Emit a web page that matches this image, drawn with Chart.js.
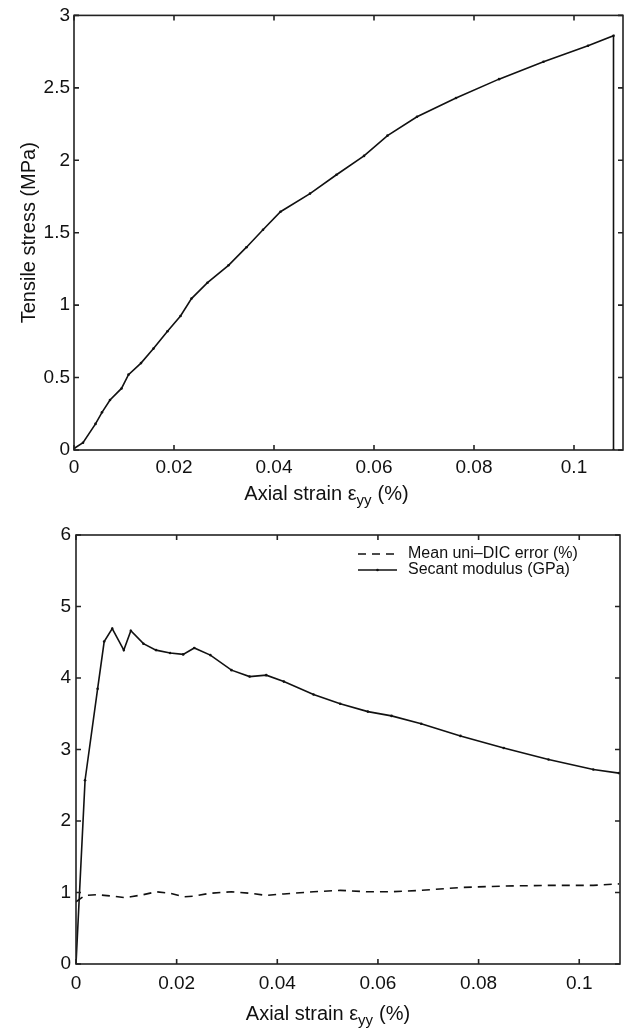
<!DOCTYPE html>
<html>
<head>
<meta charset="utf-8">
<script src="https://cdn.jsdelivr.net/npm/chart.js@4.4.1/dist/chart.umd.min.js"></script>
<style>
  html, body { margin: 0; padding: 0; background: #fff; }
  #wrap { position: relative; width: 627px; height: 1032px; }
  canvas { position: absolute; left: 0; }
  #stressChart { top: 0; }
  #modulusChart { top: 510px; }
</style>
</head>
<body>
<div id="wrap">
  <canvas id="stressChart" width="627" height="510"></canvas>
  <canvas id="modulusChart" width="627" height="522"></canvas>
</div>
<script>
// axial strain (%) at each load step
const strain = [0, 0.0018, 0.0043, 0.0056, 0.0072, 0.0095, 0.0109, 0.0134, 0.0159, 0.0187,
  0.0213, 0.0235, 0.0267, 0.0309, 0.0345, 0.0378, 0.0413, 0.0472, 0.0525, 0.0580,
  0.0627, 0.0686, 0.0764, 0.0850, 0.0939, 0.1028, 0.1079];

// tensile stress (MPa); the last entry is the drop to zero when the sample breaks
const stress = [0.01, 0.05, 0.18, 0.26, 0.345, 0.425, 0.52, 0.60, 0.70, 0.82,
  0.925, 1.045, 1.155, 1.275, 1.40, 1.52, 1.645, 1.77, 1.90, 2.03,
  2.17, 2.30, 2.43, 2.56, 2.68, 2.79, 2.86, 0];
const stressStrain = [...strain, strain[strain.length - 1]];

// mean uni-DIC error (%)
const uniDicError = [0.87, 0.96, 0.97, 0.96, 0.95, 0.93, 0.94, 0.97, 1.01, 0.99,
  0.94, 0.95, 0.99, 1.01, 0.99, 0.96, 0.98, 1.01, 1.03, 1.01,
  1.01, 1.03, 1.07, 1.09, 1.10, 1.10, 1.12];

// secant modulus (GPa)
const secantModulus = [0, 2.57, 3.85, 4.51, 4.69, 4.39, 4.66, 4.48, 4.39, 4.35,
  4.33, 4.42, 4.32, 4.11, 4.02, 4.04, 3.95, 3.77, 3.64, 3.53,
  3.47, 3.36, 3.19, 3.02, 2.86, 2.72, 2.67];

const strainTicks = [0, 0.02, 0.04, 0.06, 0.08, 0.1];
const stressTicks = [0, 0.5, 1, 1.5, 2, 2.5, 3];
const modulusTicks = [0, 1, 2, 3, 4, 5, 6];

const FONT = '"Liberation Sans", Arial, Helvetica, sans-serif';
const INK = '#111';
const AXIS = '#222';

Chart.defaults.font.family = FONT;
Chart.defaults.color = INK;

const toPoints = (xs, ys) => ys.map((y, i) => ({ x: xs[i], y }));

// box round the plot, inward ticks on all four sides, axis titles
const framePlugin = {
  id: 'frame',
  afterDraw(chart, args, opts) {
    const { ctx, chartArea: a, scales: { x, y } } = chart;
    const tick = 5;
    ctx.save();
    ctx.strokeStyle = AXIS;
    ctx.lineWidth = 1.6;
    ctx.strokeRect(a.left, a.top, a.right - a.left, a.bottom - a.top);
    ctx.beginPath();
    x.ticks.forEach(t => {
      const px = x.getPixelForValue(t.value);
      ctx.moveTo(px, a.bottom); ctx.lineTo(px, a.bottom - tick);
      ctx.moveTo(px, a.top); ctx.lineTo(px, a.top + tick);
    });
    y.ticks.forEach(t => {
      const py = y.getPixelForValue(t.value);
      ctx.moveTo(a.left, py); ctx.lineTo(a.left + tick, py);
      ctx.moveTo(a.right, py); ctx.lineTo(a.right - tick, py);
    });
    ctx.stroke();

    ctx.fillStyle = INK;
    ctx.textBaseline = 'alphabetic';
    ctx.textAlign = 'left';

    // x title with subscript
    if (opts.xTitle) {
      const parts = opts.xTitle;
      let w = 0;
      parts.forEach(p => {
        ctx.font = p.size + 'px ' + FONT;
        p.w = ctx.measureText(p.text).width;
        w += p.w + (p.gap || 0);
      });
      let cx = (a.left + a.right) / 2 + (opts.xTitleShift || 0) - w / 2;
      const base = a.bottom + opts.xTitleGap;
      parts.forEach(p => {
        ctx.font = p.size + 'px ' + FONT;
        ctx.fillText(p.text, cx, base + (p.dy || 0));
        cx += p.w + (p.gap || 0);
      });
    }

    // rotated y title
    if (opts.yTitle) {
      ctx.font = '20px ' + FONT;
      ctx.textAlign = 'center';
      ctx.translate(opts.yTitleX, (a.top + a.bottom) / 2);
      ctx.rotate(-Math.PI / 2);
      ctx.fillText(opts.yTitle, 0, 0);
    }
    ctx.restore();
  }
};

// legend in the upper right corner of the plot, drawn from the dataset styles
const cornerLegend = {
  id: 'cornerLegend',
  afterDraw(chart, args, opts) {
    if (!opts.show) return;
    const { ctx, chartArea: a } = chart;
    const x0 = a.right - opts.offsetRight;
    let yRow = a.top + opts.offsetTop;
    ctx.save();
    ctx.font = '16px ' + FONT;
    ctx.textBaseline = 'middle';
    ctx.textAlign = 'left';
    chart.data.datasets.forEach(ds => {
      ctx.strokeStyle = ds.borderColor;
      ctx.lineWidth = ds.borderWidth;
      ctx.setLineDash(ds.borderDash || []);
      ctx.beginPath();
      ctx.moveTo(x0, yRow);
      ctx.lineTo(x0 + opts.sample, yRow);
      ctx.stroke();
      ctx.setLineDash([]);
      if (ds.pointRadius > 0) {
        ctx.fillStyle = ds.borderColor;
        ctx.beginPath();
        ctx.arc(x0 + opts.sample / 2, yRow, ds.pointRadius, 0, Math.PI * 2);
        ctx.fill();
      }
      ctx.fillStyle = INK;
      ctx.fillText(ds.label, x0 + opts.sample + opts.textGap, yRow);
      yRow += opts.rowHeight;
    });
    ctx.restore();
  }
};

function axisOptions(cfg) {
  return {
    responsive: false,
    animation: false,
    events: [],
    layout: { padding: cfg.padding },
    plugins: {
      legend: { display: false },
      tooltip: { enabled: false },
      frame: cfg.frame,
      cornerLegend: cfg.legend || { show: false }
    },
    scales: {
      x: {
        type: 'linear',
        min: 0,
        max: cfg.xMax,
        grid: { display: false, drawTicks: false },
        border: { display: false },
        afterBuildTicks: s => { s.ticks = strainTicks.map(v => ({ value: v })); },
        afterFit: s => { s.height = cfg.xHeight; },
        ticks: {
          font: { size: 19 },
          color: INK,
          padding: cfg.xPad,
          maxRotation: 0,
          autoSkip: false,
          callback: v => String(v)
        }
      },
      y: {
        type: 'linear',
        min: cfg.yTicks[0],
        max: cfg.yTicks[cfg.yTicks.length - 1],
        grid: { display: false, drawTicks: false },
        border: { display: false },
        afterBuildTicks: s => { s.ticks = cfg.yTicks.map(v => ({ value: v })); },
        afterFit: s => { s.width = cfg.yWidth; },
        ticks: {
          font: { size: 19 },
          color: INK,
          padding: cfg.yPad,
          autoSkip: false,
          callback: v => String(v)
        }
      }
    }
  };
}

new Chart(document.getElementById('stressChart'), {
  type: 'line',
  data: {
    datasets: [{
      label: 'Tensile stress (MPa)',
      data: toPoints(stressStrain, stress),
      borderColor: INK,
      borderWidth: 1.6,
      pointRadius: 1.3,
      pointBackgroundColor: INK,
      pointBorderWidth: 0,
      tension: 0
    }]
  },
  options: axisOptions({
    xMax: 0.1098,
    yTicks: stressTicks,
    yWidth: 74,
    xHeight: 60,
    xPad: 6,
    yPad: 4,
    padding: { top: 15, right: 4, left: 0, bottom: 0 },
    frame: {
      xTitle: [
        { text: 'Axial strain \u03b5', size: 20 },
        { text: 'yy', size: 15, dy: 5, gap: 6 },
        { text: '(%)', size: 20 }
      ],
      xTitleShift: -22,
      xTitleGap: 50,
      yTitle: 'Tensile stress (MPa)',
      yTitleX: 35
    }
  }),
  plugins: [framePlugin, cornerLegend]
});

new Chart(document.getElementById('modulusChart'), {
  type: 'line',
  data: {
    datasets: [{
      label: 'Mean uni\u2013DIC error (%)',
      data: toPoints(strain, uniDicError),
      borderColor: INK,
      borderWidth: 1.6,
      borderDash: [8, 6],
      pointRadius: 0,
      tension: 0
    }, {
      label: 'Secant modulus (GPa)',
      data: toPoints(strain, secantModulus),
      borderColor: INK,
      borderWidth: 1.6,
      pointRadius: 1.3,
      pointBackgroundColor: INK,
      pointBorderWidth: 0,
      tension: 0
    }]
  },
  options: axisOptions({
    xMax: 0.1081,
    yTicks: modulusTicks,
    yWidth: 76,
    xHeight: 68,
    xPad: 8,
    yPad: 5,
    padding: { top: 25, right: 7, left: 0, bottom: 0 },
    frame: {
      xTitle: [
        { text: 'Axial strain \u03b5', size: 20 },
        { text: 'yy', size: 15, dy: 5, gap: 6 },
        { text: '(%)', size: 20 }
      ],
      xTitleShift: -20,
      xTitleGap: 55.5
    },
    legend: { show: true, offsetRight: 262, offsetTop: 19, sample: 39, textGap: 11, rowHeight: 16 }
  }),
  plugins: [framePlugin, cornerLegend]
});
</script>
</body>
</html>
